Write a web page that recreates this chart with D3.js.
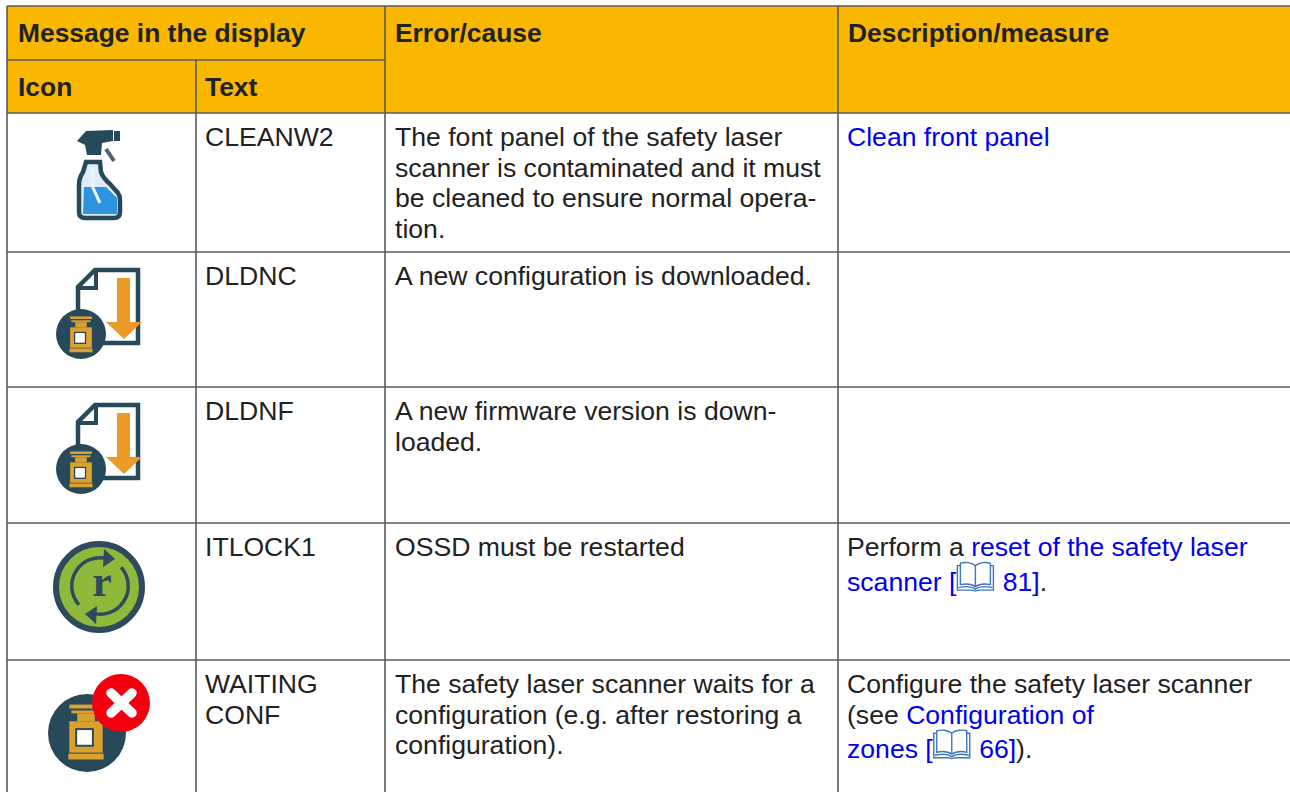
<!DOCTYPE html>
<html>
<head>
<meta charset="utf-8">
<script src="https://cdn.jsdelivr.net/npm/d3@7"></script>
<style>
html, body { margin: 0; padding: 0; background: #fff; overflow: hidden; }
svg { display: block; }
text { font-family: "Liberation Sans", Arial, sans-serif; font-size: 26.6px; fill: #222; }
.head { font-weight: bold; font-size: 26.4px; }
.link { fill: #0000f2; }
</style>
</head>
<body>
<svg width="1290" height="792"></svg>
<script>
var groupHeader = "Message in the display";
var subHeaders = ["Icon", "Text"];
var causeHeader = "Error/cause";
var measureHeader = "Description/measure";

var rows = ["clean", "dldnc", "dldnf", "itlock", "waiting"];
var icons = ["spray", "download", "download", "reset", "error"];
var messages = [["CLEANW2"], ["DLDNC"], ["DLDNF"], ["ITLOCK1"], ["WAITING", "CONF"]];
var causes = [
  ["The font panel of the safety laser", "scanner is contaminated and it must", "be cleaned to ensure normal opera-", "tion."],
  ["A new configuration is downloaded."],
  ["A new firmware version is down-", "loaded."],
  ["OSSD must be restarted"],
  ["The safety laser scanner waits for a", "configuration (e.g. after restoring a", "configuration)."]
];
// each line is a list of [text, kind] pieces, kind: t = plain, l = link, b = book icon
var measures = [
  [[["Clean front panel", "l"]]],
  [],
  [],
  [[["Perform a ", "t"], ["reset of the safety laser", "l"]],
   [["scanner [", "l"], ["", "b"], [" 81]", "l"], [".", "t"]]],
  [[["Configure the safety laser scanner", "t"]],
   [["(see ", "t"], ["Configuration of", "l"]],
   [["zones [", "l"], ["", "b"], [" 66]", "l"], [").", "t"]]]
];

var svg = d3.select("svg");

var x = d3.scaleOrdinal().domain(["icon", "text", "cause", "measure", "end"]).range([7, 196, 385, 838, 1291]);
var y = d3.scaleOrdinal().domain(["top", "sub", "body"].concat(rows, ["end"])).range([6, 60, 113, 113, 252, 387, 523, 660, 793]);
var rowEdge = function(i) { return y(rows[i]); };

var amber = "#f9b700", grid = "#5a5a5a", dark = "#27495a", gold = "#dca02f", orange = "#ec9a28";

// header fill
svg.append("rect").attr("x", x("icon")).attr("y", y("top"))
    .attr("width", x("end") - x("icon")).attr("height", y("body") - y("top")).attr("fill", amber);

// grid lines
var hLines = [
  [x("icon"), x("end"), y("top")],
  [x("icon"), x("cause"), y("sub")],
  [x("icon"), x("end"), y("body")]
].concat(rows.slice(1).map(function(r) { return [x("icon"), x("end"), y(r)]; }));
var vLines = [
  [x("icon"), y("top"), y("end")],
  [x("text"), y("sub"), y("end")],
  [x("cause"), y("top"), y("end")],
  [x("measure"), y("top"), y("end")]
];
svg.selectAll(".h").data(hLines).enter().append("line")
    .attr("x1", function(d) { return d[0]; }).attr("x2", function(d) { return d[1]; })
    .attr("y1", function(d) { return d[2]; }).attr("y2", function(d) { return d[2]; })
    .attr("stroke", grid).attr("stroke-width", 1.6);
svg.selectAll(".v").data(vLines).enter().append("line")
    .attr("x1", function(d) { return d[0]; }).attr("x2", function(d) { return d[0]; })
    .attr("y1", function(d) { return d[1]; }).attr("y2", function(d) { return d[2]; })
    .attr("stroke", grid).attr("stroke-width", 1.6);

// header text
function head(label, px, py) {
  svg.append("text").attr("class", "head").attr("x", px).attr("y", py).text(label);
}
head(groupHeader, x("icon") + 11, y("top") + 36);
head(subHeaders[0], x("icon") + 11, y("sub") + 36);
head(subHeaders[1], x("text") + 9, y("sub") + 36);
head(causeHeader, x("cause") + 10, y("top") + 36);
head(measureHeader, x("measure") + 10, y("top") + 36);

// body text
var lineH = 30.6, firstLine = 33;
rows.forEach(function(r, i) {
  var top = rowEdge(i);
  messages[i].forEach(function(t, j) {
    svg.append("text").attr("x", x("text") + 9).attr("y", top + firstLine + j * lineH).text(t);
  });
  causes[i].forEach(function(t, j) {
    svg.append("text").attr("x", x("cause") + 10).attr("y", top + firstLine + j * lineH).text(t);
  });
  var py = top + firstLine;
  measures[i].forEach(function(pieces) {
    var hasBook = pieces.some(function(p) { return p[1] === "b"; });
    if (hasBook && py > top + firstLine) py += 4;
    var cx = x("measure") + 9;
    pieces.forEach(function(p) {
      if (p[1] === "b") {
        drawBook(cx, py - 29);
        cx += 39;
        return;
      }
      var t = svg.append("text").attr("x", cx).attr("y", py)
          .attr("class", p[1] === "l" ? "link" : null)
          .attr("xml:space", "preserve").style("white-space", "pre").text(p[0]);
      cx += t.node().getComputedTextLength();
    });
    py += lineH;
  });
});

function drawBook(bx, by) {
  var g = svg.append("g").attr("transform", "translate(" + bx + "," + by + ")")
      .attr("fill", "none").attr("stroke", "#3f78b8").attr("stroke-width", 1.4);
  g.append("path").attr("d", "M19,4 C15,0.5 8,0.5 4,1.5 L4,23 C9,22 15,22 19,25 C23,22 29,22 34,23 L34,1.5 C30,0.5 23,0.5 19,4 Z");
  g.append("path").attr("d", "M19,4 L19,25");
  g.append("path").attr("d", "M4,4 L1,4 L1,28.5 L15,28.5 Q19,30 23,28.5 L37,28.5 L37,4 L34,4");
  g.append("path").attr("d", "M2,26 C9,24.5 15,24.5 19,27.5 C23,24.5 29,24.5 36,26");
}

function drawScanner(g, cx, cy, s) {
  var n = g.append("g").attr("transform", "translate(" + cx + "," + cy + ") scale(" + s + ")");
  n.append("rect").attr("x", -17).attr("y", -29).attr("width", 34).attr("height", 4).attr("fill", gold);
  n.append("rect").attr("x", -15).attr("y", -23).attr("width", 30).attr("height", 3).attr("fill", gold);
  n.append("rect").attr("x", -9).attr("y", -20).attr("width", 18).attr("height", 8).attr("fill", gold);
  n.append("rect").attr("x", -17).attr("y", -12).attr("width", 34).attr("height", 32).attr("fill", gold);
  n.append("rect").attr("x", -18).attr("y", 21).attr("width", 36).attr("height", 6).attr("fill", gold);
  n.append("rect").attr("x", -11).attr("y", -5).attr("width", 19).attr("height", 19).attr("fill", dark);
  n.append("rect").attr("x", -9).attr("y", -3).attr("width", 15).attr("height", 15).attr("fill", "#fff");
}

function drawSpray(g) {
  g.append("path").attr("fill", dark)
      .attr("d", "M77,141 L86,131 L113,130 L113,141 L102,143 L101,155 L87,155 L85,145 Z");
  g.append("rect").attr("x", 114).attr("y", 131).attr("width", 6).attr("height", 10).attr("fill", dark);
  g.append("path").attr("d", "M106,149 L114,161").attr("stroke", "#4d6572").attr("stroke-width", 4);
  var bottle = "M86,162 L100,162 L101,172 Q103,178 110,184 L118,193 Q120,196 120,200 L120,212 Q120,218 114,218 L85,218 Q79,218 79,212 L79,185 Q79,178 83,172 Z";
  g.append("path").attr("d", bottle).attr("fill", "#dcedf9");
  g.append("path").attr("fill", "#2f94e0").attr("d", "M84,187 L106,187 L117,198 L117,214 L83,214 Z");
  g.append("path").attr("d", "M93,167 L93,188 L100,203").attr("fill", "none").attr("stroke", "#eef6fc").attr("stroke-width", 3);
  g.append("path").attr("d", bottle).attr("fill", "none").attr("stroke", dark).attr("stroke-width", 4.5);
}

function drawDownload(g) {
  g.append("path").attr("fill", "none").attr("stroke", dark).attr("stroke-width", 4.5)
      .attr("d", "M78,310 L78,287 L95,270 L138,270 L138,343 L100,343");
  g.append("path").attr("fill", "none").attr("stroke", dark).attr("stroke-width", 4)
      .attr("d", "M80,288 L96,288 L96,272");
  g.append("path").attr("fill", orange).attr("d", "M117,278 L130,278 L130,322 L142,322 L124,339 L106,322 L117,322 Z");
  g.append("circle").attr("cx", 81).attr("cy", 334).attr("r", 25).attr("fill", dark);
  drawScanner(g, 81, 335, 0.64);
}

function drawReset(g) {
  g.append("circle").attr("cx", 99).attr("cy", 587).attr("r", 43).attr("fill", "#8fb93a").attr("stroke", "#2f4a5e").attr("stroke-width", 6);
  var arc = d3.arc().innerRadius(26.5).outerRadius(30);
  var top = g.append("g").attr("transform", "translate(100,586)");
  top.append("path").attr("fill", "#2f4a5e").attr("d", arc({startAngle: -2.3, endAngle: 0.3}));
  top.append("path").attr("fill", "#2f4a5e").attr("d", arc({startAngle: 0.85, endAngle: 3.45}));
  top.append("path").attr("fill", "#2f4a5e").attr("d", "M4,-37 L15,-27 L3,-19 Z");
  top.append("path").attr("fill", "#2f4a5e").attr("d", "M-4,38 L-15,28 L-3,20 Z");
  g.append("text").attr("x", 102).attr("y", 596).attr("text-anchor", "middle")
      .style("font-family", "'Liberation Serif', serif").style("font-weight", "bold").style("font-size", "44px")
      .style("fill", "#2f4a5e").text("r");
}

function drawError(g) {
  g.append("circle").attr("cx", 87).attr("cy", 733).attr("r", 39).attr("fill", dark);
  drawScanner(g, 86, 733, 0.98);
  g.append("circle").attr("cx", 121).attr("cy", 703).attr("r", 29).attr("fill", "#f2000f");
  g.append("path").attr("d", "M111,693 L132,713 M132,693 L111,713").attr("stroke", "#fff").attr("stroke-width", 9.5).attr("stroke-linecap", "round");
}

icons.forEach(function(kind, i) {
  var g = svg.append("g").attr("class", "icon-" + kind);
  if (kind === "spray") drawSpray(g);
  if (kind === "download") {
    g.attr("transform", "translate(0," + (rowEdge(i) - rowEdge(1)) + ")");
    drawDownload(g);
  }
  if (kind === "reset") drawReset(g);
  if (kind === "error") drawError(g);
});
</script>
</body>
</html>
